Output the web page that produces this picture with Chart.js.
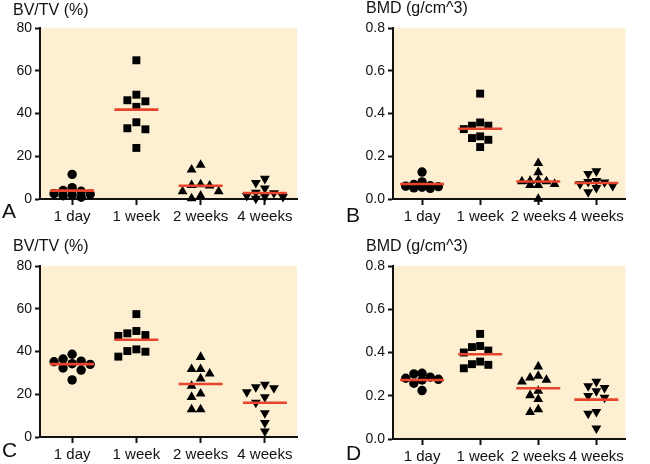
<!DOCTYPE html>
<html>
<head>
<meta charset="utf-8">
<script src="https://cdn.jsdelivr.net/npm/chart.js@4.4.1/dist/chart.umd.min.js"></script>
<style>
  html, body { margin: 0; padding: 0; background: #ffffff; }
  #wrap { position: relative; width: 650px; height: 464px; overflow: hidden; }
  .panel { position: absolute; width: 325px; height: 232px; }
</style>
</head>
<body>
<div id="wrap">
  <div class="panel" style="left:0;top:0"><canvas id="cA" width="325" height="232"></canvas></div>
  <div class="panel" style="left:325px;top:0"><canvas id="cB" width="325" height="232"></canvas></div>
  <div class="panel" style="left:0;top:232px"><canvas id="cC" width="325" height="232"></canvas></div>
  <div class="panel" style="left:325px;top:232px"><canvas id="cD" width="325" height="232"></canvas></div>
</div>
<script>
// ---------- data ----------
const categories = ['1 day', '1 week', '2 weeks', '4 weeks'];

const bvTicks = [0, 20, 40, 60, 80];
const bmdTicks = [0.0, 0.2, 0.4, 0.6, 0.8];

// Panel A: BV/TV (%)
const aDay   = [11.5, 5.3, 4.0, 3.6, 2.5, 2.2, 2.0, 1.5, 0.8];
const aWeek1 = [64.9, 48.8, 46.2, 45.7, 43.1, 35.9, 33.1, 32.6, 23.9];
const aWeek2 = [15.9, 13.7, 6.8, 6.5, 6.2, 3.5, 3.5, 1.5, 0.3];
const aWeek4 = [9.5, 7.6, 5.0, 3.0, 2.8, 1.5, 1.2, 1.0, 0.2];
const aMeans = [3.9, 41.8, 6.2, 2.8];

// Panel B: BMD (g/cm^3)
const bDay   = [0.126, 0.080, 0.068, 0.062, 0.060, 0.058, 0.055, 0.052, 0.050];
const bWeek1 = [0.493, 0.358, 0.343, 0.343, 0.327, 0.293, 0.285, 0.277, 0.243];
const bWeek2 = [0.168, 0.125, 0.088, 0.085, 0.082, 0.082, 0.070, 0.065, 0.065, 0.0];
const bWeek4 = [0.130, 0.118, 0.085, 0.080, 0.078, 0.070, 0.062, 0.052, 0.032];
const bMeans = [0.070, 0.329, 0.082, 0.075];

// Panel C: BV/TV (%)
const cDay   = [38.7, 36.5, 35.5, 35.2, 34.3, 34.0, 32.3, 31.3, 26.7];
const cWeek1 = [57.5, 49.6, 48.5, 47.7, 47.3, 41.0, 40.2, 39.9, 37.6];
const cWeek2 = [37.4, 31.7, 31.7, 29.6, 27.3, 23.9, 20.3, 18.7, 12.9, 12.9];
const cWeek4 = [24.5, 23.4, 22.9, 21.0, 18.7, 16.1, 11.2, 6.6, 2.7];
const cMeans = [34.1, 45.5, 24.8, 16.0];

// Panel D: BMD (g/cm^3)
const dDay   = [0.304, 0.301, 0.286, 0.281, 0.276, 0.273, 0.258, 0.224];
const dWeek1 = [0.486, 0.430, 0.425, 0.409, 0.400, 0.358, 0.346, 0.343, 0.327];
const dWeek2 = [0.335, 0.292, 0.284, 0.273, 0.265, 0.222, 0.202, 0.184, 0.137, 0.124];
const dWeek4 = [0.265, 0.245, 0.237, 0.222, 0.200, 0.192, 0.126, 0.118, 0.049];
const dMeans = [0.273, 0.392, 0.235, 0.182];

// ---------- styling ----------
const FONT = '"Liberation Sans", Arial, Helvetica, sans-serif';
const INK = '#111111';
const BG = '#FDEFD2';
const RED = '#E8432C';
const markerStyles = [
  { pointStyle: 'circle',   radius: 4.7, rotation: 0 },
  { pointStyle: 'rect',     radius: 5.6, rotation: 0 },
  { pointStyle: 'triangle', radius: 5.7, rotation: 0 },
  { pointStyle: 'triangle', radius: 5.7, rotation: 180 }
];

// simple bounded beeswarm: spread overlapping points over at most 5 columns
function swarm(values, yMax) {
  const plotH = 171, catW = 64, step = 9, minD = 7.5;
  const placed = [];
  const order = [0, -1, 1, -2, 2];
  return values.map(v => {
    const py = v / yMax * plotH;
    let best = null, bestScore = -1;
    for (const k of order) {
      const px = k * step;
      let score = Infinity;
      placed.forEach(p => {
        const d = Math.max(Math.abs(p.x - px), Math.abs(p.y - py));
        score = Math.min(score, d);
      });
      if (score >= minD) { best = px; break; }
      if (score > bestScore + 0.5) { bestScore = score; best = px; }
    }
    placed.push({ x: best, y: py });
    return best / catW;
  });
}

const bgPlugin = {
  id: 'bgFill',
  beforeDraw(chart) {
    const { ctx, chartArea: a } = chart;
    ctx.save();
    ctx.fillStyle = BG;
    ctx.fillRect(a.left, a.top, a.right - a.left, a.bottom - a.top);
    ctx.restore();
  }
};

const labelPlugin = {
  id: 'panelText',
  afterDraw(chart, args, opts) {
    const { ctx, chartArea: a } = chart;
    ctx.save();
    ctx.fillStyle = INK;
    ctx.textBaseline = 'middle';
    ctx.textAlign = 'left';
    ctx.font = '16px ' + FONT;
    ctx.fillText(opts.title, a.left - 27, opts.titleY);
    ctx.font = '21px ' + FONT;
    ctx.fillText(opts.letter, opts.letterX, opts.letterY);
    ctx.restore();
  }
};

function makeChart(id, cfg) {
  const groups = cfg.groups;
  const datasets = [{
    label: 'mean',
    data: cfg.means.map((m, i) => ({ x: i + 1, y: m })),
    pointStyle: 'line',
    pointRadius: 22,
    pointHoverRadius: 22,
    borderColor: RED,
    backgroundColor: RED,
    pointBorderWidth: 2.6,
    borderWidth: 2.6,
    clip: false
  }];
  groups.forEach((vals, gi) => {
    const offs = swarm(vals, cfg.yMax);
    const st = markerStyles[gi];
    datasets.push({
      label: categories[gi],
      data: vals.map((v, j) => ({ x: gi + 1 + offs[j], y: v })),
      pointStyle: st.pointStyle,
      pointRadius: st.radius,
      pointHoverRadius: st.radius,
      rotation: st.rotation,
      backgroundColor: '#000',
      borderColor: '#000',
      borderWidth: 0,
      pointBorderWidth: 0,
      clip: false
    });
  });

  return new Chart(document.getElementById(id), {
    type: 'scatter',
    data: { datasets },
    options: {
      responsive: false,
      animation: false,
      devicePixelRatio: 1,
      layout: { padding: { left: 0, top: cfg.top, right: cfg.right, bottom: 0 } },
      plugins: {
        legend: { display: false },
        tooltip: { enabled: false },
        panelText: { title: cfg.title, titleY: cfg.titleY, letter: cfg.letter, letterX: cfg.letterX, letterY: cfg.letterY }
      },
      scales: {
        x: {
          type: 'linear',
          min: 0.5, max: 4.5,
          afterBuildTicks: s => { s.ticks = categories.map((c, i) => ({ value: i + 1 })); },
          afterFit: s => { s.height = 232 - cfg.bottom; },
          ticks: {
            callback: v => categories[Math.round(v) - 1],
            color: INK,
            font: { family: FONT, size: 15 },
            padding: 3,
            maxRotation: 0,
            autoSkip: false
          },
          grid: { display: true, drawOnChartArea: false, drawTicks: true, tickLength: 6, tickWidth: 2, tickColor: INK },
          border: { display: true, color: INK, width: 2 }
        },
        y: {
          type: 'linear',
          min: 0, max: cfg.yMax,
          afterBuildTicks: s => { s.ticks = cfg.yTicks.map(v => ({ value: v })); },
          afterFit: s => { s.width = cfg.left; },
          ticks: {
            callback: v => cfg.decimals ? Number(v).toFixed(1) : String(v),
            color: INK,
            font: { family: FONT, size: 14 },
            padding: 3
          },
          grid: { display: true, drawOnChartArea: false, drawTicks: true, tickLength: 5, tickWidth: 2, tickColor: INK },
          border: { display: true, color: INK, width: 2 }
        }
      }
    },
    plugins: [bgPlugin, labelPlugin]
  });
}

makeChart('cA', {
  groups: [aDay, aWeek1, aWeek2, aWeek4], means: aMeans, yMax: 80, yTicks: bvTicks, decimals: false,
  left: 40, top: 28, right: 28, bottom: 199,
  title: 'BV/TV (%)', titleY: 11, letter: 'A', letterX: 2, letterY: 212
});
makeChart('cB', {
  groups: [bDay, bWeek1, bWeek2, bWeek4], means: bMeans, yMax: 0.8, yTicks: bmdTicks, decimals: true,
  left: 68, top: 28, right: 0, bottom: 199,
  title: 'BMD (g/cm^3)', titleY: 9, letter: 'B', letterX: 21, letterY: 216
});
makeChart('cC', {
  groups: [cDay, cWeek1, cWeek2, cWeek4], means: cMeans, yMax: 80, yTicks: bvTicks, decimals: false,
  left: 40, top: 34, right: 28, bottom: 205,
  title: 'BV/TV (%)', titleY: 15, letter: 'C', letterX: 2, letterY: 219
});
makeChart('cD', {
  groups: [dDay, dWeek1, dWeek2, dWeek4], means: dMeans, yMax: 0.8, yTicks: bmdTicks, decimals: true,
  left: 68, top: 34, right: 0, bottom: 207,
  title: 'BMD (g/cm^3)', titleY: 15, letter: 'D', letterX: 21, letterY: 222
});
</script>
</body>
</html>
